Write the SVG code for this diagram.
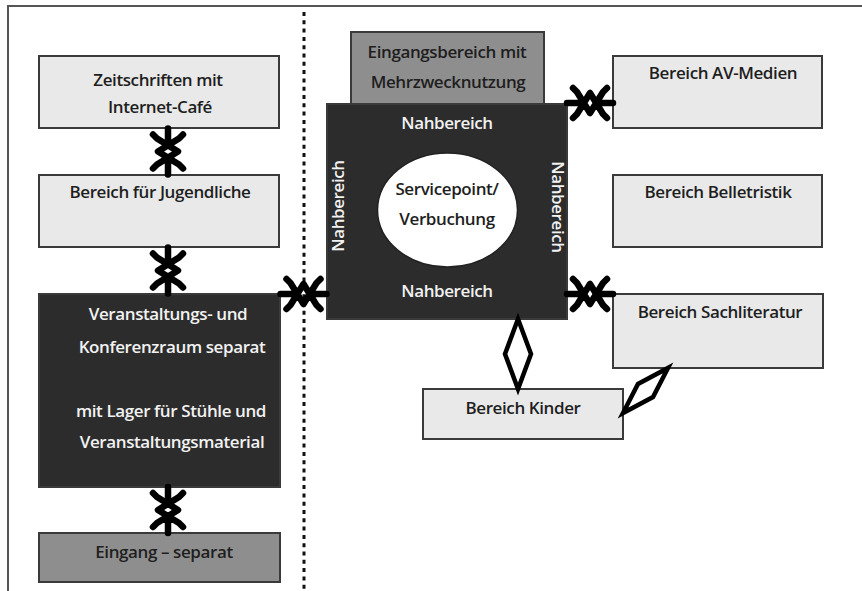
<svg xmlns="http://www.w3.org/2000/svg" width="862" height="591" viewBox="0 0 862 591">
<style>
  .light { fill: #e9e9e9; stroke: #3a3a3a; stroke-width: 2; }
  .mid { fill: #8e8e8e; stroke: #3a3a3a; stroke-width: 2; }
  .dark { fill: #2c2c2c; stroke: #3a3a3a; stroke-width: 2; }
  text { font-family: "Open Sans", "Liberation Sans", sans-serif; font-size: 17px; font-weight: 600; letter-spacing: -0.4px; text-anchor: middle; }
  .t { fill: #1e1e1e; }
  .w { fill: #f2f2f2; }
  .conn { fill: none; stroke: #000; stroke-width: 6.5; stroke-linecap: round; stroke-linejoin: round; }
  .dia { fill: #fff; stroke: #000; stroke-width: 4.5; stroke-linejoin: miter; }
</style>
<defs>
  <path id="xlink" d="M0,-23 L0,-9 M-15,-17 L-11,-13 L10,0 L-11,13 L-15,17 M15,-17 L11,-13 L-10,0 L11,13 L15,17 M0,9 L0,23"/>
</defs>
<rect width="862" height="591" fill="#fff"/>
<path d="M8,591 L8,6 L862,6" fill="none" stroke="#555" stroke-width="2"/>
<line x1="304" y1="12" x2="304" y2="591" stroke="#111" stroke-width="3" stroke-dasharray="4 4.3"/>

<g id="n-zeitschriften">
  <rect class="light" x="39" y="56" width="240" height="72"/>
  <text class="t" x="158" y="86">Zeitschriften mit</text>
  <text class="t" x="160" y="113">Internet-Café</text>
</g>
<g id="n-jugendliche">
  <rect class="light" x="39" y="175" width="240" height="72"/>
  <text class="t" x="160" y="198">Bereich für Jugendliche</text>
</g>
<g id="n-veranstaltung">
  <rect class="dark" x="39" y="294" width="241" height="193"/>
  <text class="w" x="168" y="320">Veranstaltungs- und</text>
  <text class="w" x="172" y="353">Konferenzraum separat</text>
  <text class="w" x="171" y="417">mit Lager für Stühle und</text>
  <text class="w" x="172" y="448">Veranstaltungsmaterial</text>
</g>
<g id="n-eingang-separat">
  <rect class="mid" x="39" y="533" width="241" height="49"/>
  <text class="t" x="164" y="558">Eingang – separat</text>
</g>
<g id="n-eingangsbereich">
  <rect class="mid" x="351" y="32" width="193" height="72"/>
  <text class="t" x="447" y="58">Eingangsbereich mit</text>
  <text class="t" x="448" y="88">Mehrzwecknutzung</text>
</g>
<g id="n-nahbereich">
  <rect class="dark" x="327" y="104" width="240" height="215"/>
  <text class="w" x="447" y="129">Nahbereich</text>
  <text class="w" x="447" y="297">Nahbereich</text>
  <text class="w" transform="translate(344,206) rotate(-90)">Nahbereich</text>
  <text class="w" transform="translate(552,207) rotate(90)">Nahbereich</text>
</g>
<g id="n-servicepoint">
  <ellipse cx="447.5" cy="210" rx="70" ry="57" fill="#fff" stroke="#222" stroke-width="1.5"/>
  <text class="t" x="447" y="195">Servicepoint/</text>
  <text class="t" x="447" y="225">Verbuchung</text>
</g>
<g id="n-av">
  <rect class="light" x="613" y="56" width="209" height="72"/>
  <text class="t" x="723" y="79">Bereich AV-Medien</text>
</g>
<g id="n-belletristik">
  <rect class="light" x="613" y="175" width="209" height="72"/>
  <text class="t" x="718" y="198">Bereich Belletristik</text>
</g>
<g id="n-sachliteratur">
  <rect class="light" x="613" y="294" width="210" height="74"/>
  <text class="t" x="720" y="318">Bereich Sachliteratur</text>
</g>
<g id="n-kinder">
  <rect class="light" x="423" y="389" width="200" height="50"/>
  <text class="t" x="523" y="414">Bereich Kinder</text>
</g>

<g id="connectors">
  <use href="#xlink" class="conn" transform="translate(168,151.5)"/>
  <use href="#xlink" class="conn" transform="translate(168,270.5)"/>
  <use href="#xlink" class="conn" transform="translate(168,510)"/>
  <use href="#xlink" class="conn" transform="translate(303.5,294) rotate(90)"/>
  <use href="#xlink" class="conn" transform="translate(590,103) rotate(90)"/>
  <use href="#xlink" class="conn" transform="translate(590,294) rotate(90)"/>
  <path class="dia" d="M518,319 L531,354 L518,389 L505,354 Z"/>
  <path class="dia" d="M668,368 L653,397 L623,413 L638,384 Z"/>
</g>
</svg>
